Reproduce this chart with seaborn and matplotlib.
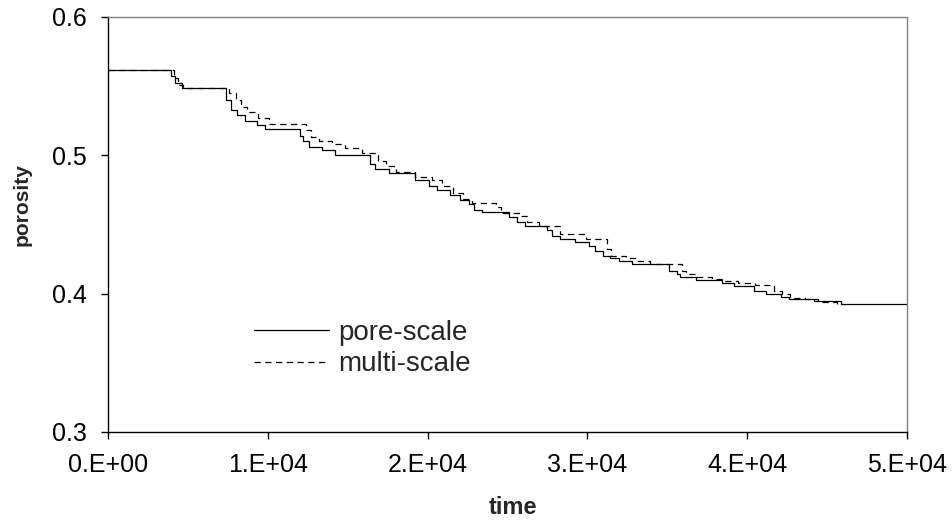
import matplotlib
matplotlib.use("Agg")
import matplotlib.pyplot as plt
import numpy as np
import pandas as pd
import seaborn as sns

# step data: time at which each level starts, and the level
pore_time = [0, 3950, 4200, 4600, 7400, 7700, 8100, 8600, 9300, 9850,
             12000, 12200, 12600, 13400, 14200, 16400, 16700, 17600, 19200, 20100,
             20600, 21400, 22000, 22600, 22900, 23400, 25100, 25600, 26100, 27500,
             27800, 28300, 29200, 30100, 30500, 31000, 31400, 32000, 32800, 35100,
             35600, 35800, 36800, 38400, 39200, 40400, 41200, 42100, 42600, 44200,
             45900, 50000]
pore_por = [0.562, 0.557, 0.552, 0.549, 0.540, 0.533, 0.529, 0.525, 0.522, 0.519,
            0.514, 0.510, 0.506, 0.504, 0.500, 0.494, 0.490, 0.487, 0.482, 0.478,
            0.4746, 0.471, 0.468, 0.465, 0.4607, 0.459, 0.4553, 0.452, 0.449, 0.4457,
            0.442, 0.4396, 0.4375, 0.4348, 0.4312, 0.4275, 0.4256, 0.4234, 0.4215, 0.4167,
            0.4143, 0.412, 0.410, 0.4078, 0.4058, 0.402, 0.400, 0.3978, 0.396, 0.3944,
            0.3925, 0.3925]

multi_time = [0, 4100, 4400, 4700, 7600, 8000, 8300, 8700, 9400, 10100,
              12400, 12700, 13200, 14000, 14800, 15900, 16900, 17400, 18000, 19200,
              20300, 20900, 21600, 22200, 22800, 24300, 24600, 25700, 26200, 27000,
              28300, 29900, 31200, 31500, 32400, 33100, 33900, 35900, 36200, 36800,
              37800, 38500, 39400, 40500, 41700, 42200, 42700, 43600, 44400, 45600,
              46000]
multi_por = [0.562, 0.556, 0.551, 0.549, 0.545, 0.540, 0.535, 0.531, 0.527, 0.523,
             0.518, 0.513, 0.510, 0.508, 0.505, 0.502, 0.496, 0.492, 0.488, 0.484,
             0.482, 0.478, 0.473, 0.4686, 0.4654, 0.4625, 0.4585, 0.4565, 0.452, 0.4486,
             0.443, 0.4396, 0.432, 0.4275, 0.4256, 0.4234, 0.4215, 0.4167, 0.4143, 0.412,
             0.4105, 0.4094, 0.408, 0.4063, 0.402, 0.3995, 0.397, 0.396, 0.394, 0.3925,
             0.3925]

x_ticks = [0, 10000, 20000, 30000, 40000, 50000]
x_ticklabels = ["0.E+00", "1.E+04", "2.E+04", "3.E+04", "4.E+04", "5.E+04"]
y_ticks = [0.3, 0.4, 0.5, 0.6]
y_ticklabels = ["0.3", "0.4", "0.5", "0.6"]

sns.set_style("ticks")
plt.rcParams["font.family"] = ["Liberation Sans", "DejaVu Sans"]

pore = pd.DataFrame({"time": pore_time, "porosity": pore_por})
multi = pd.DataFrame({"time": multi_time, "porosity": multi_por})

fig = plt.figure(figsize=(9.53, 5.31), dpi=100)
ax = fig.add_axes([108 / 953, 1 - 432 / 531, (907 - 108) / 953, (432 - 17) / 531])

sns.lineplot(data=pore, x="time", y="porosity", color="black", lw=0.9,
             drawstyle="steps-post", label="pore-scale", ax=ax)
sns.lineplot(data=multi, x="time", y="porosity", color="black", lw=0.9,
             drawstyle="steps-post", label="multi-scale", ax=ax)
ax.lines[1].set_dashes((5, 3.6))

ax.set_xlim(0, 50000)
ax.set_ylim(0.3, 0.6)
ax.set_xticks(x_ticks)
ax.set_xticklabels(x_ticklabels)
ax.set_yticks(y_ticks)
ax.set_yticklabels(y_ticklabels)
ax.tick_params(direction="out", length=5, width=1, colors="black", labelsize=18, pad=10)

for side in ["left", "bottom"]:
    ax.spines[side].set_color("black")
    ax.spines[side].set_linewidth(1)
for side in ["top", "right"]:
    ax.spines[side].set_visible(True)
    ax.spines[side].set_color("#808080")
    ax.spines[side].set_linewidth(1)

ax.set_xlabel("time", fontsize=17, fontweight="bold", va="center")
ax.set_ylabel("porosity", fontsize=15, fontweight="bold")
ax.xaxis.set_label_coords((513 - 108) / 799, (432 - 508) / 415)
ax.yaxis.set_label_coords((32 - 108) / 799, (432 - 205) / 415)

leg = ax.legend(loc="center left", bbox_to_anchor=(254 / 953, 1 - 348.5 / 531),
                bbox_transform=fig.transFigure, frameon=False, fontsize=20,
                handlelength=2.7, handletextpad=0.33, borderpad=0, borderaxespad=0,
                labelspacing=0.2)

fig.savefig("out.png", dpi=100)
